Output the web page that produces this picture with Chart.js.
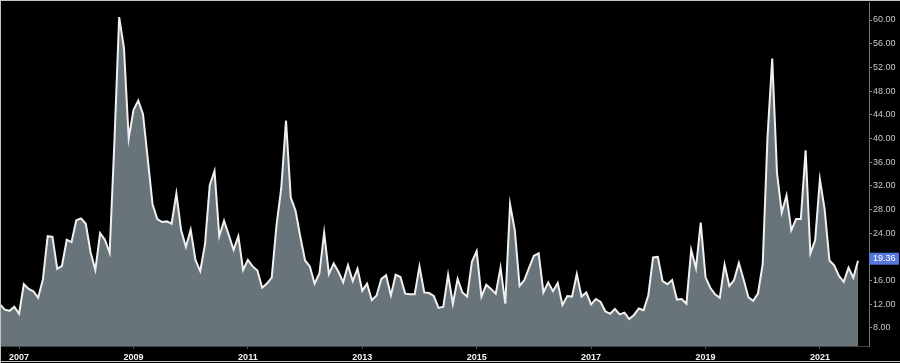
<!DOCTYPE html>
<html>
<head>
<meta charset="utf-8">
<script src="https://cdn.jsdelivr.net/npm/chart.js@4"></script>
<style>
  body { margin: 0; background: #000; }
  canvas { display: block; }
</style>
</head>
<body>
<canvas id="vixChart" width="900" height="363"></canvas>
<script>
// Monthly closes, Sep 2006 .. Sep 2021
const vix2006 = [12.0, 11.1, 10.9, 11.6];
const vix2007 = [10.4, 15.4, 14.6, 14.2, 13.1, 16.2, 23.5, 23.4, 18.0, 18.5, 22.9, 22.5];
const vix2008 = [26.2, 26.5, 25.6, 20.8, 17.8, 24.0, 22.9, 20.7, 39.4, 60.5, 55.3, 40.0];
const vix2009 = [44.8, 46.4, 44.1, 36.5, 28.9, 26.4, 25.9, 26.0, 25.6, 30.7, 24.5, 21.7];
const vix2010 = [24.6, 19.5, 17.6, 22.1, 32.1, 34.5, 23.5, 26.1, 23.7, 21.2, 23.5, 17.8];
const vix2011 = [19.5, 18.4, 17.7, 14.8, 15.5, 16.5, 25.3, 31.6, 43.0, 30.0, 27.8, 23.4];
const vix2012 = [19.4, 18.4, 15.5, 17.2, 24.1, 17.1, 18.9, 17.5, 15.7, 18.6, 15.9, 18.0];
const vix2013 = [14.3, 15.5, 12.7, 13.5, 16.3, 16.9, 13.5, 17.0, 16.6, 13.8, 13.7, 13.7];
const vix2014 = [18.4, 14.0, 13.9, 13.4, 11.4, 11.6, 17.0, 12.1, 16.3, 14.0, 13.3, 19.2];
const vix2015 = [21.0, 13.3, 15.3, 14.6, 13.8, 18.2, 12.1, 28.9, 24.5, 15.1, 16.1, 18.2];
const vix2016 = [20.2, 20.6, 14.0, 15.7, 14.2, 15.6, 11.9, 13.4, 13.3, 17.1, 13.3, 14.0];
const vix2017 = [12.0, 12.9, 12.4, 10.8, 10.4, 11.2, 10.3, 10.6, 9.5, 10.2, 11.3, 11.0];
const vix2018 = [13.5, 19.9, 20.0, 15.9, 15.4, 16.1, 12.8, 12.9, 12.1, 21.2, 18.1, 25.8];
const vix2019 = [16.6, 14.8, 13.7, 13.1, 18.7, 15.1, 16.1, 19.0, 16.2, 13.2, 12.6, 13.8];
const vix2020 = [18.8, 40.1, 53.5, 34.2, 27.5, 30.4, 24.5, 26.4, 26.4, 38.0, 20.6, 22.8];
const vix2021 = [33.1, 28.0, 19.4, 18.6, 16.8, 15.8, 18.2, 16.5, 19.36];

const yearLabels = ['2007', '2009', '2011', '2013', '2015', '2017', '2019', '2021'];
const yTicks = [8, 12, 16, 20, 24, 28, 32, 36, 40, 44, 48, 52, 56, 60];

const vix = [].concat(vix2006, vix2007, vix2008, vix2009, vix2010, vix2011, vix2012,
  vix2013, vix2014, vix2015, vix2016, vix2017, vix2018, vix2019, vix2020, vix2021);
const lastValue = vix[vix.length - 1];

// month index 0 = Sep 2006, so January of a year sits at (year - 2006) * 12 - 8
const monthOfYear = y => (Number(y) - 2006) * 12 - 8;

// frame and last-price badge
const extras = {
  id: 'extras',
  afterDraw(chart) {
    const c = chart.ctx;
    const y = chart.scales.y.getPixelForValue(lastValue);
    c.save();
    c.fillStyle = '#5677dc';
    c.fillRect(869, y - 8, 30, 12);
    c.fillStyle = '#ffffff';
    c.font = '9px "Liberation Sans", Arial, sans-serif';
    c.textBaseline = 'middle';
    c.fillText(lastValue.toFixed(2), 873, y - 2);

    c.strokeStyle = '#c4c4c4';
    c.lineWidth = 1;
    c.beginPath();
    c.moveTo(0, 0.5); c.lineTo(900, 0.5);
    c.moveTo(0.5, 0); c.lineTo(0.5, 363);
    c.moveTo(0, 361.5); c.lineTo(900, 361.5);
    c.stroke();
    c.restore();
  }
};

new Chart(document.getElementById('vixChart').getContext('2d'), {
  type: 'line',
  data: {
    datasets: [{
      data: vix.map((v, i) => ({ x: i, y: v })),
      borderColor: '#f0f0f0',
      borderWidth: 2,
      backgroundColor: '#68747a',
      fill: 'start',
      pointRadius: 0,
      tension: 0
    }]
  },
  options: {
    responsive: false,
    devicePixelRatio: 1,
    animation: false,
    layout: { padding: { top: 2, left: 0, right: 0, bottom: 0 } },
    plugins: { legend: { display: false }, tooltip: { enabled: false } },
    scales: {
      x: {
        type: 'linear',
        min: 0,
        max: 182.3,
        afterBuildTicks: s => { s.ticks = yearLabels.map(y => ({ value: monthOfYear(y) })); },
        afterFit: s => { s.height = 17; s.paddingLeft = 0; s.paddingRight = 0; },
        ticks: {
          autoSkip: false,
          maxRotation: 0,
          padding: 3,
          color: '#f2f2f2',
          font: { size: 9, weight: 'bold', family: '"Liberation Sans", Arial, sans-serif' },
          callback: v => yearLabels.find(y => monthOfYear(y) === v)
        },
        grid: { drawOnChartArea: false, drawTicks: true, tickLength: 3, color: '#555' },
        border: { display: true, color: '#444' }
      },
      y: {
        position: 'right',
        min: 4.96,
        max: 63.04,
        afterBuildTicks: s => { s.ticks = yTicks.map(v => ({ value: v })); },
        afterFit: s => { s.width = 31; s.paddingTop = 0; s.paddingBottom = 0; },
        ticks: {
          autoSkip: false,
          padding: 1,
          color: '#c8c8c8',
          font: { size: 9, family: '"Liberation Sans", Arial, sans-serif' },
          callback: v => v.toFixed(2)
        },
        grid: { drawOnChartArea: false, drawTicks: true, tickLength: 3, color: '#888' },
        border: { display: true, color: '#777' }
      }
    }
  },
  plugins: [extras]
});
</script>
</body>
</html>
